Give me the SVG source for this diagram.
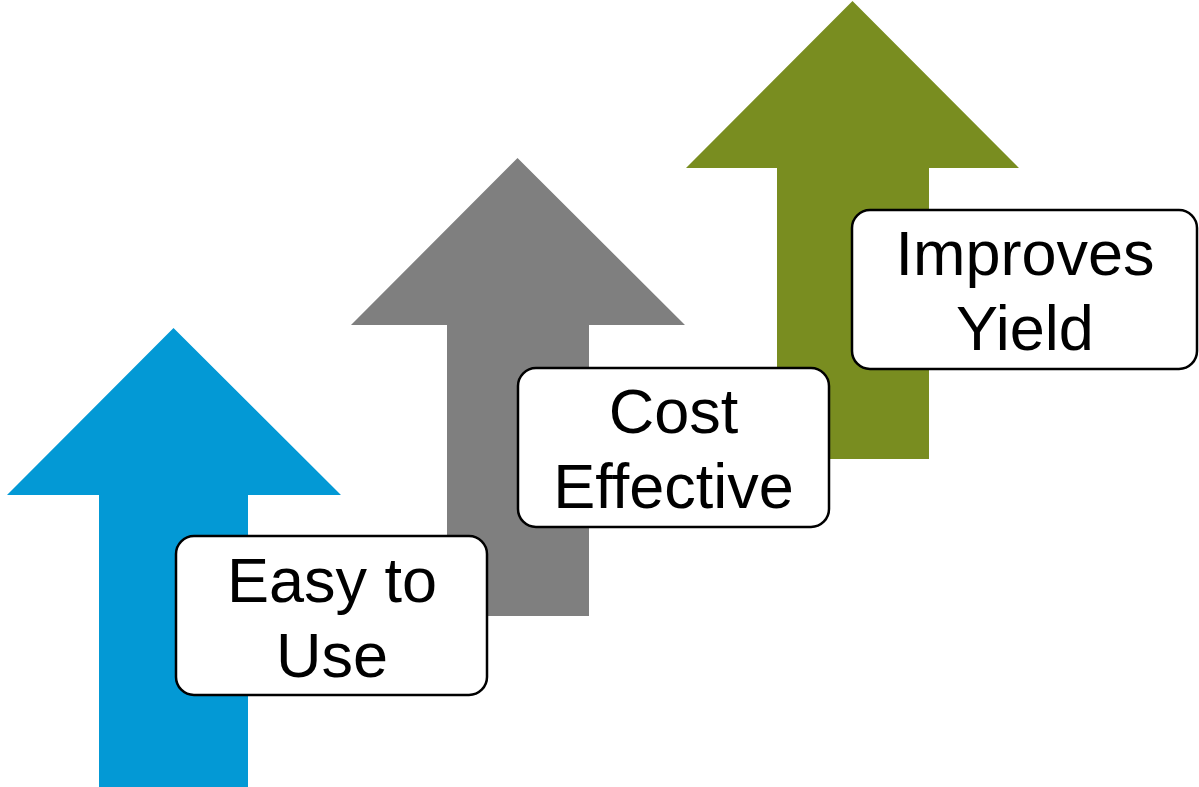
<svg xmlns="http://www.w3.org/2000/svg" width="1199" height="787" viewBox="0 0 1199 787">
<style>
.box{fill:#fff;stroke:#000;stroke-width:2.5}
.t{font-family:"Liberation Sans",Arial,sans-serif;font-size:63px;fill:#000;text-anchor:middle}
</style>
<rect width="1199" height="787" fill="#fff"/>
<g id="arrow-blue"><polygon fill="#0399D5" points="173.5,328 341,495 248,495 248,787 99,787 99,495 7,495"/></g>
<g id="arrow-gray"><polygon fill="#7F7F7F" points="517.5,158 685,325 589,325 589,616 447,616 447,325 351,325"/></g>
<g id="arrow-green"><polygon fill="#798D20" points="852.5,1 1019,168 929,168 929,459 777,459 777,168 686,168"/></g>
<g id="node-easy"><rect class="box" x="176" y="536" width="311" height="159" rx="18"/><text class="t" x="332" y="602">Easy to</text><text class="t" x="332" y="677">Use</text></g>
<g id="node-cost"><rect class="box" x="518" y="368" width="311" height="159" rx="18"/><text class="t" x="673.5" y="433">Cost</text><text class="t" x="673.5" y="508">Effective</text></g>
<g id="node-yield"><rect class="box" x="852" y="210" width="345" height="159" rx="18"/><text class="t" x="1025" y="275">Improves</text><text class="t" x="1025" y="350">Yield</text></g>
<g id="connectors"/>
</svg>
